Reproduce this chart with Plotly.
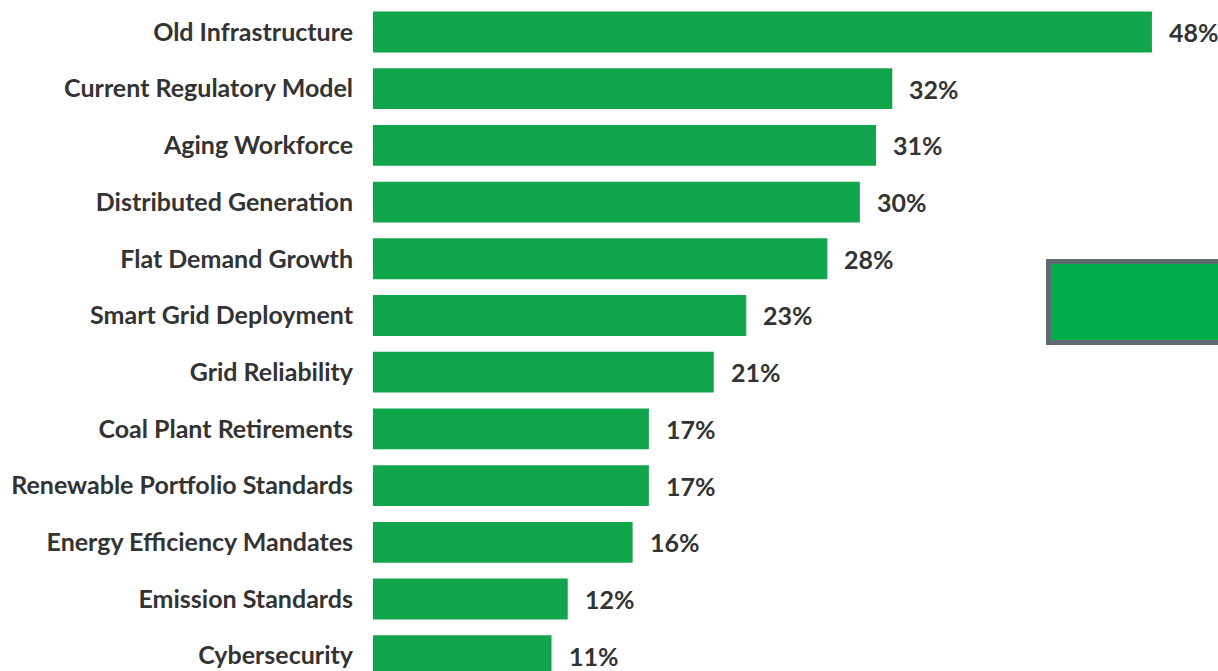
import plotly.graph_objects as go

categories = ["Old Infrastructure", "Current Regulatory Model", "Aging Workforce",
              "Distributed Generation", "Flat Demand Growth", "Smart Grid Deployment",
              "Grid Reliability", "Coal Plant Retirements", "Renewable Portfolio Standards",
              "Energy Efficiency Mandates", "Emission Standards", "Cybersecurity"]
values = [48, 32, 31, 30, 28, 23, 21, 17, 17, 16, 12, 11]
value_labels = [f"{v}%" for v in values]

bar_color = "#12A64C"
text_color = "#333333"
font_family = "Lato, 'Open Sans', sans-serif"

fig = go.Figure()
fig.add_trace(go.Bar(
    x=values, y=categories, orientation="h",
    marker=dict(color=bar_color, line=dict(width=0)),
    width=0.72, hoverinfo="skip",
))

annotations = []
for c, v, lab in zip(categories, values, value_labels):
    annotations.append(dict(x=v, y=c, xref="x", yref="y", text=lab, showarrow=False,
                            xanchor="left", xshift=15,
                            font=dict(family=font_family, size=25, color=text_color, weight="bold")))

fig.update_layout(
    width=1218, height=671,
    margin=dict(l=373, r=0, t=0, b=0),
    paper_bgcolor="white", plot_bgcolor="white",
    showlegend=False,
    annotations=annotations,
    xaxis=dict(range=[0, 52.07], visible=False, fixedrange=True),
    yaxis=dict(type="category", categoryorder="array", categoryarray=categories,
               range=[11.27, -0.564], showgrid=False, zeroline=False, showline=False,
               ticks="", ticklabelstandoff=19, fixedrange=True,
               tickfont=dict(family=font_family, size=25, color=text_color, weight="bold")),
    shapes=[dict(type="rect", xref="paper", yref="paper",
                 x0=(1048.5 - 373) / 845, x1=1.02,
                 y0=1 - 342.5 / 671, y1=1 - 261.5 / 671,
                 fillcolor="#00AD4E", line=dict(color="#5E6A72", width=5))],
)

fig.write_html("out.html", config={"displayModeBar": False},
               post_script="document.body.style.margin='0';document.body.style.overflow='hidden';")
